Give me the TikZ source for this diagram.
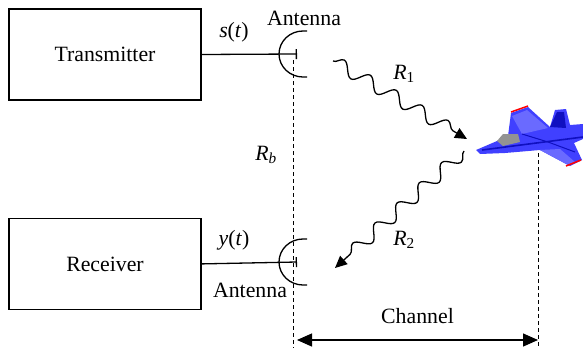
\documentclass[tikz,border=0pt]{standalone}
\usepackage{fontspec}
\setmainfont{Liberation Serif}
\newfontfamily\labelfont{Liberation Serif}
\definecolor{jetblue}{HTML}{4040FF}
\definecolor{jetdark}{HTML}{1010C0}
\definecolor{jetlight}{HTML}{6A6AFF}
\usetikzlibrary{arrows.meta,positioning,decorations.pathmorphing}

\begin{document}
\begin{tikzpicture}[x=1pt, y=-1pt, every node/.style={font=\labelfont\fontsize{21.8}{26}\selectfont},
    block/.style={draw, line width=1.4pt, minimum width=192pt, minimum height=91pt, inner sep=0pt},
    feed/.style={line width=1.3pt, -{Bar[width=10pt, line width=1.3pt]}},
    wave/.style={line width=1.3pt, decorate, decoration={snake, segment length=30pt, amplitude=6.5pt, post length=12pt},
      -{Triangle[length=12pt, width=11pt]}},
    guide/.style={line width=0.9pt, dash pattern=on 4pt off 3pt}]
    \useasboundingbox (0,0) rectangle (583,348);

    % Transceiver blocks
    \node [block] (tx) at (105,54.5) {Transmitter};
    \node [block, below=117pt of tx] (rx) {Receiver};

    % Antenna feed points and reference lines
    \coordinate (txant) at (297,54);
    \coordinate (rxant) at (297,262);
    \coordinate (basetop) at (293,60);
    \coordinate (basebot) at (293,348);
    \coordinate (target) at (538,132);
    \coordinate (targetbot) at (538,348);

    % Feed lines
    \path [draw, feed] (tx.east) -- (txant);
    \path [draw, feed] (rx.east) -- (rxant);

    % Antenna dishes
    \draw [line width=1.3pt] (txant) ++(10,-23) -- ++(-4,0)
        arc[start angle=90, end angle=270, x radius=24pt, y radius=23pt] -- ++(4,0);
    \draw [line width=1.3pt] (rxant) ++(10,-23) -- ++(-4,0)
        arc[start angle=90, end angle=270, x radius=24pt, y radius=23pt] -- ++(4,0);

    % Labels
    \node (st) at (234,32) {\textit{s}(\textit{t})};
    \node (yt) at (234,240) {\textit{y}(\textit{t})};
    \node (anttop) at (304,18) {Antenna};
    \node (antbot) at (250,290) {Antenna};
    \node (rb) at (266,155) {\textit{R}\textsubscript{\textit{b}}};

    % Dashed references
    \draw [guide] (basetop) -- (basebot);
    \draw [guide] (target) -- (targetbot);

    % Propagation paths
    \coordinate (r1s) at (333,61);
    \coordinate (r1e) at (467,139);
    \coordinate (r2s) at (464,151);
    \coordinate (r2e) at (335,268);
    \draw [wave] (r1s) -- (r1e);
    \draw [wave] (r2s) -- (r2e);
    \node (r1) at (404,74) {\textit{R}\textsubscript{1}};
    \node (r2) at (404,240) {\textit{R}\textsubscript{2}};

    % Channel extent
    \coordinate (chl) at (297,340);
    \coordinate (chr) at (538,340);
    \draw [line width=1.3pt, {Triangle[length=15pt, width=13pt]}-{Triangle[length=15pt, width=13pt]}]
        (chl) -- node [above=12pt] (chan) {Channel} (chr);

    % Aircraft
    \fill [jetblue] (476,150) -- (497,141) -- (508,136) -- (511,113) -- (528,107) -- (550,127)
        -- (555,110) -- (566,109) -- (570,125) -- (583,124) -- (583,139) -- (574,143)
        -- (582,160) -- (570,166) -- (540,150) -- (505,153) -- (480,154) -- cycle;
    \fill [jetlight] (512,116) -- (527,110) -- (548,128) -- (522,134) -- cycle;
    \fill [jetlight] (540,150) -- (560,149) -- (575,162) -- (568,165) -- cycle;
    \fill [jetdark] (550,127) -- (557,112) -- (564,112) -- (566,128) -- cycle;
    \fill [gray!85] (497,141) -- (503,134) -- (518,134) -- (520,142) -- (503,146) -- cycle;
    \draw [jetdark, line width=1.6pt] (482,150) -- (583,137);
    \draw [jetdark, line width=1pt] (522,134) -- (548,142) -- (575,152);
    \draw [red, line width=1.5pt] (511,112) -- (528,106);
    \draw [red, line width=1.5pt] (566,166) -- (581,160);
\end{tikzpicture}
\end{document}
